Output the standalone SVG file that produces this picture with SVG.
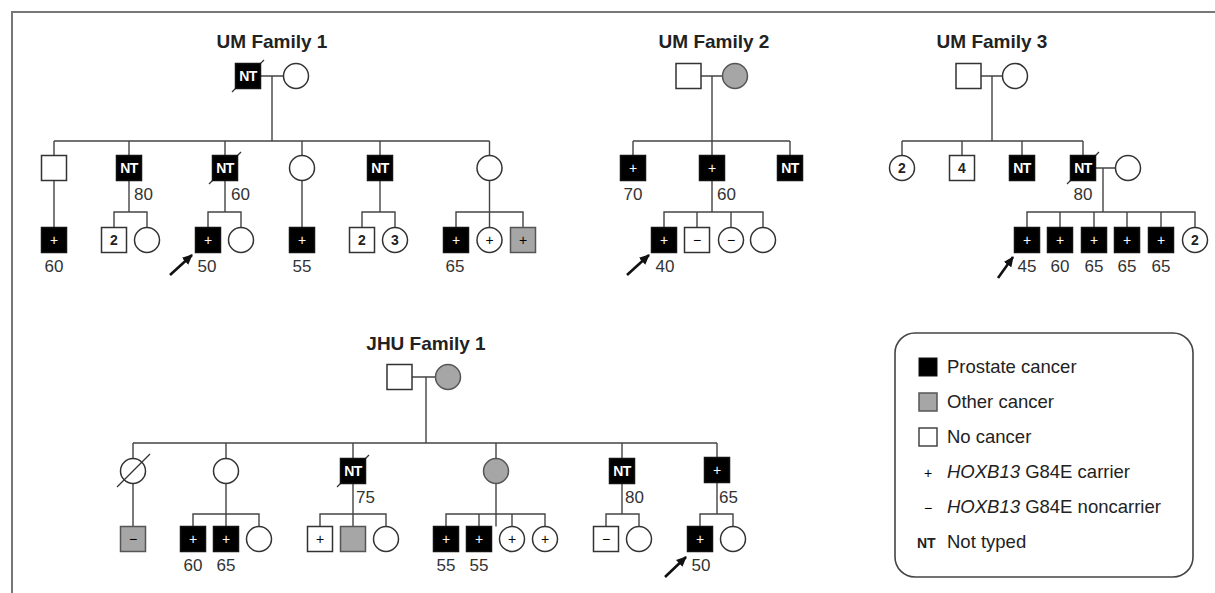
<svg xmlns="http://www.w3.org/2000/svg" width="1215" height="593" viewBox="0 0 1215 593">
<defs>
<style>
.sq{stroke:#333;stroke-width:1.5;fill:#fff}
.aff{fill:#000;stroke:#111}
.oth{fill:#a6a6a6;stroke:#555}
.ln{stroke:#444;stroke-width:1.4;fill:none}
.sl{stroke:#333;stroke-width:1.2}
.nt{font-family:"Liberation Sans",Arial,sans-serif;font-weight:bold;font-size:14px;fill:#fff;text-anchor:middle;letter-spacing:-0.5px}
.pw{font-family:"Liberation Sans",Arial,sans-serif;font-size:14px;fill:#fff;text-anchor:middle}
.pb{font-family:"Liberation Sans",Arial,sans-serif;font-size:14px;fill:#000;text-anchor:middle}
.num{font-family:"Liberation Sans",Arial,sans-serif;font-weight:bold;font-size:14px;fill:#222;text-anchor:middle}
.age{font-family:"Liberation Sans",Arial,sans-serif;font-size:17px;fill:#333}
.agec{font-family:"Liberation Sans",Arial,sans-serif;font-size:17px;fill:#333;text-anchor:middle}
.title{font-family:"Liberation Sans",Arial,sans-serif;font-weight:bold;font-size:19px;fill:#222;text-anchor:middle}
.lg{font-family:"Liberation Sans",Arial,sans-serif;font-size:18.5px;fill:#222}
.arr{stroke:#111;stroke-width:2.6;fill:none}
</style>
<marker id="ah" viewBox="0 0 10 10" refX="9" refY="5" markerWidth="4" markerHeight="4" orient="auto" markerUnits="strokeWidth">
<path d="M0,0.5 L10,5 L0,9.5 z" fill="#111"/>
</marker>
</defs>
<rect width="1215" height="593" fill="#fff"/>
<path d="M12 593 V12 H1215" stroke="#777" stroke-width="2" fill="none"/>

<g id="titles">
<text class="title" x="272" y="48">UM Family 1</text>
<text class="title" x="714" y="48">UM Family 2</text>
<text class="title" x="992" y="48">UM Family 3</text>
<text class="title" x="426" y="350">JHU Family 1</text>
</g>

<g id="connectors" class="ln">
<!-- UM Family 1 -->
<path d="M260.5 76 H283.5 M272 76 V141 M54 141 H489.5 M54 141 V155.5 M129 141 V155.5 M225 141 V155.5 M302 141 V155.5 M380 141 V155.5 M489.5 141 V155.5"/>
<path d="M54 180.5 V227.5 M129 180.5 V212 M114 227.5 V212 H147 V227.5 M225 180.5 V212 M208 227.5 V212 H241 V227.5 M302 180.5 V227.5 M380 180.5 V212 M362 227.5 V212 H395 V227.5 M489.5 180.5 V227.5 M456 227.5 V212 H523 V227.5"/>
<!-- UM Family 2 -->
<path d="M701 76 H722.5 M712 76 V141 M633 141 H790 M633 141 V155.5 M712 141 V155.5 M790 141 V155.5 M712 180.5 V212 M664 227.5 V212 H763 V227.5 M697 212 V227.5 M731 212 V227.5"/>
<!-- UM Family 3 -->
<path d="M981 76 H1002.5 M992 76 V141 M902 141 H1083 M902 141 V155.5 M962 141 V155.5 M1022 141 V155.5 M1083 141 V155.5 M1095.5 168 H1115.5 M1103 168 V212 M1027 227.5 V212 H1195 V227.5 M1060 212 V227.5 M1094 212 V227.5 M1127 212 V227.5 M1161 212 V227.5"/>
<!-- JHU Family 1 -->
<path d="M412 377 H435.5 M426 377 V443 M133 443 H717 M133 443 V458.5 M226 443 V458.5 M353 443 V458.5 M496 443 V458.5 M622 443 V458.5 M717 443 V457.5"/>
<path d="M133 483.5 V526.5 M226 483.5 V526.5 M193 526.5 V514 H259 V526.5 M353 483.5 V526.5 M320 526.5 V514 H386 V526.5 M496 483.5 V526.5 M446 526.5 V514 H545 V526.5 M479 514 V526.5 M512 514 V526.5 M622 483.5 V514 M606 526.5 V514 H639 V526.5 M717 482.5 V514 M700 526.5 V514 H733 V526.5"/>
<!-- proband arrows -->
<g class="arr">
<line x1="170" y1="275" x2="192" y2="255" marker-end="url(#ah)"/>
<line x1="627" y1="275" x2="649" y2="255" marker-end="url(#ah)"/>
<line x1="998" y1="278" x2="1013" y2="257" marker-end="url(#ah)"/>
<line x1="665" y1="577" x2="686" y2="557" marker-end="url(#ah)"/>
</g>
</g>

<!-- ===== UM Family 1 ===== -->
<g id="f1-father"><line class="sl" x1="232" y1="92" x2="264" y2="60"/><rect class="sq aff" x="235.5" y="63.5" width="25" height="25"/><text class="nt" x="248" y="81">NT</text></g>
<g id="f1-mother"><circle class="sq" cx="296" cy="76" r="12.5"/></g>
<g id="f1-c1"><rect class="sq" x="41.5" y="155.5" width="25" height="25"/></g>
<g id="f1-c2"><rect class="sq aff" x="116.5" y="155.5" width="25" height="25"/><text class="nt" x="129" y="173">NT</text><text class="age" x="134" y="200">80</text></g>
<g id="f1-c3"><line class="sl" x1="209" y1="184" x2="241" y2="152"/><rect class="sq aff" x="212.5" y="155.5" width="25" height="25"/><text class="nt" x="225" y="173">NT</text><text class="age" x="231" y="200">60</text></g>
<g id="f1-c4"><circle class="sq" cx="302" cy="168" r="12.5"/></g>
<g id="f1-c5"><rect class="sq aff" x="367.5" y="155.5" width="25" height="25"/><text class="nt" x="380" y="173">NT</text></g>
<g id="f1-c6"><circle class="sq" cx="489.5" cy="168" r="12.5"/></g>
<g id="f1-g1"><rect class="sq aff" x="41.5" y="227.5" width="25" height="25"/><text class="pw" x="54" y="245">+</text><text class="agec" x="54" y="272">60</text></g>
<g id="f1-g2"><rect class="sq" x="101.5" y="227.5" width="25" height="25"/><text class="num" x="114" y="245">2</text></g>
<g id="f1-g3"><circle class="sq" cx="147" cy="240" r="12.5"/></g>
<g id="f1-g4"><rect class="sq aff" x="195.5" y="227.5" width="25" height="25"/><text class="pw" x="208" y="245">+</text><text class="agec" x="207" y="272">50</text></g>
<g id="f1-g5"><circle class="sq" cx="241" cy="240" r="12.5"/></g>
<g id="f1-g6"><rect class="sq aff" x="289.5" y="227.5" width="25" height="25"/><text class="pw" x="302" y="245">+</text><text class="agec" x="302" y="272">55</text></g>
<g id="f1-g7"><rect class="sq" x="349.5" y="227.5" width="25" height="25"/><text class="num" x="362" y="245">2</text></g>
<g id="f1-g8"><circle class="sq" cx="395" cy="240" r="12.5"/><text class="num" x="395" y="245">3</text></g>
<g id="f1-g9"><rect class="sq aff" x="443.5" y="227.5" width="25" height="25"/><text class="pw" x="456" y="245">+</text><text class="agec" x="455" y="272">65</text></g>
<g id="f1-g10"><circle class="sq" cx="489.5" cy="240" r="12.5"/><text class="pb" x="489.5" y="245">+</text></g>
<g id="f1-g11"><rect class="sq oth" x="510.5" y="227.5" width="25" height="25"/><text class="pb" x="523" y="245">+</text></g>

<!-- ===== UM Family 2 ===== -->
<g id="f2-father"><rect class="sq" x="676" y="63.5" width="25" height="25"/></g>
<g id="f2-mother"><circle class="sq oth" cx="735" cy="76" r="12.5"/></g>
<g id="f2-c1"><rect class="sq aff" x="620.5" y="155.5" width="25" height="25"/><text class="pw" x="633" y="173">+</text><text class="agec" x="633" y="200">70</text></g>
<g id="f2-c2"><rect class="sq aff" x="699.5" y="155.5" width="25" height="25"/><text class="pw" x="712" y="173">+</text><text class="age" x="717" y="200">60</text></g>
<g id="f2-c3"><rect class="sq aff" x="777.5" y="155.5" width="25" height="25"/><text class="nt" x="790" y="173">NT</text></g>
<g id="f2-g1"><rect class="sq aff" x="651.5" y="227.5" width="25" height="25"/><text class="pw" x="664" y="245">+</text><text class="agec" x="665" y="272">40</text></g>
<g id="f2-g2"><rect class="sq" x="684.5" y="227.5" width="25" height="25"/><text class="pb" x="697" y="245">−</text></g>
<g id="f2-g3"><circle class="sq" cx="731" cy="240" r="12.5"/><text class="pb" x="731" y="245">−</text></g>
<g id="f2-g4"><circle class="sq" cx="763" cy="240" r="12.5"/></g>

<!-- ===== UM Family 3 ===== -->
<g id="f3-father"><rect class="sq" x="956" y="63.5" width="25" height="25"/></g>
<g id="f3-mother"><circle class="sq" cx="1015" cy="76" r="12.5"/></g>
<g id="f3-c1"><circle class="sq" cx="902" cy="168" r="12.5"/><text class="num" x="902" y="173">2</text></g>
<g id="f3-c2"><rect class="sq" x="949.5" y="155.5" width="25" height="25"/><text class="num" x="962" y="173">4</text></g>
<g id="f3-c3"><rect class="sq aff" x="1009.5" y="155.5" width="25" height="25"/><text class="nt" x="1022" y="173">NT</text></g>
<g id="f3-c4"><line class="sl" x1="1067" y1="184" x2="1099" y2="152"/><rect class="sq aff" x="1070.5" y="155.5" width="25" height="25"/><text class="nt" x="1083" y="173">NT</text><text class="agec" x="1083" y="200">80</text></g>
<g id="f3-c4-spouse"><circle class="sq" cx="1128" cy="168" r="12.5"/></g>
<g id="f3-g1"><rect class="sq aff" x="1014.5" y="227.5" width="25" height="25"/><text class="pw" x="1027" y="245">+</text><text class="agec" x="1027" y="272">45</text></g>
<g id="f3-g2"><rect class="sq aff" x="1047.5" y="227.5" width="25" height="25"/><text class="pw" x="1060" y="245">+</text><text class="agec" x="1060" y="272">60</text></g>
<g id="f3-g3"><rect class="sq aff" x="1081.5" y="227.5" width="25" height="25"/><text class="pw" x="1094" y="245">+</text><text class="agec" x="1094" y="272">65</text></g>
<g id="f3-g4"><rect class="sq aff" x="1114.5" y="227.5" width="25" height="25"/><text class="pw" x="1127" y="245">+</text><text class="agec" x="1127" y="272">65</text></g>
<g id="f3-g5"><rect class="sq aff" x="1148.5" y="227.5" width="25" height="25"/><text class="pw" x="1161" y="245">+</text><text class="agec" x="1161" y="272">65</text></g>
<g id="f3-g6"><circle class="sq" cx="1195" cy="240" r="12.5"/><text class="num" x="1195" y="245">2</text></g>

<!-- ===== JHU Family 1 ===== -->
<g id="j1-father"><rect class="sq" x="387" y="364.5" width="25" height="25"/></g>
<g id="j1-mother"><circle class="sq oth" cx="448" cy="377" r="12.5"/></g>
<g id="j1-c1"><circle class="sq" cx="133" cy="471" r="12.5"/><line class="sl" x1="117" y1="487" x2="150" y2="454"/></g>
<g id="j1-c2"><circle class="sq" cx="226" cy="471" r="12.5"/></g>
<g id="j1-c3"><line class="sl" x1="337" y1="487" x2="369" y2="455"/><rect class="sq aff" x="340.5" y="458.5" width="25" height="25"/><text class="nt" x="353" y="476">NT</text><text class="age" x="356" y="503">75</text></g>
<g id="j1-c4"><circle class="sq oth" cx="496" cy="471" r="12.5"/></g>
<g id="j1-c5"><rect class="sq aff" x="609.5" y="458.5" width="25" height="25"/><text class="nt" x="622" y="476">NT</text><text class="age" x="625" y="503">80</text></g>
<g id="j1-c6"><rect class="sq aff" x="704.5" y="457.5" width="25" height="25"/><text class="pw" x="717" y="475">+</text><text class="age" x="719" y="503">65</text></g>
<g id="j1-g1"><rect class="sq oth" x="120.5" y="526.5" width="25" height="25"/><text class="pb" x="133" y="544">−</text></g>
<g id="j1-g2"><rect class="sq aff" x="180.5" y="526.5" width="25" height="25"/><text class="pw" x="193" y="544">+</text><text class="agec" x="193" y="571">60</text></g>
<g id="j1-g3"><rect class="sq aff" x="213.5" y="526.5" width="25" height="25"/><text class="pw" x="226" y="544">+</text><text class="agec" x="226" y="571">65</text></g>
<g id="j1-g4"><circle class="sq" cx="259" cy="539" r="12.5"/></g>
<g id="j1-g5"><rect class="sq" x="307.5" y="526.5" width="25" height="25"/><text class="pb" x="320" y="544">+</text></g>
<g id="j1-g6"><rect class="sq oth" x="340.5" y="526.5" width="25" height="25"/></g>
<g id="j1-g7"><circle class="sq" cx="386" cy="539" r="12.5"/></g>
<g id="j1-g8"><rect class="sq aff" x="433.5" y="526.5" width="25" height="25"/><text class="pw" x="446" y="544">+</text><text class="agec" x="446" y="571">55</text></g>
<g id="j1-g9"><rect class="sq aff" x="466.5" y="526.5" width="25" height="25"/><text class="pw" x="479" y="544">+</text><text class="agec" x="479" y="571">55</text></g>
<g id="j1-g10"><circle class="sq" cx="512" cy="539" r="12.5"/><text class="pb" x="512" y="544">+</text></g>
<g id="j1-g11"><circle class="sq" cx="545" cy="539" r="12.5"/><text class="pb" x="545" y="544">+</text></g>
<g id="j1-g12"><rect class="sq" x="593.5" y="526.5" width="25" height="25"/><text class="pb" x="606" y="544">−</text></g>
<g id="j1-g13"><circle class="sq" cx="639" cy="539" r="12.5"/></g>
<g id="j1-g14"><rect class="sq aff" x="687.5" y="526.5" width="25" height="25"/><text class="pw" x="700" y="544">+</text><text class="agec" x="701" y="571">50</text></g>
<g id="j1-g15"><circle class="sq" cx="733" cy="539" r="12.5"/></g>

<!-- ===== Legend ===== -->
<g id="legend">
<rect x="895" y="333" width="298" height="244" rx="20" fill="#fff" stroke="#444" stroke-width="1.6"/>
<rect x="919" y="358" width="18" height="18" fill="#000" stroke="#111"/>
<text class="lg" x="947" y="373">Prostate cancer</text>
<rect x="919" y="393" width="18" height="18" fill="#a6a6a6" stroke="#555" stroke-width="1.5"/>
<text class="lg" x="947" y="408">Other cancer</text>
<rect x="919" y="428" width="18" height="18" fill="#fff" stroke="#444" stroke-width="1.5"/>
<text class="lg" x="947" y="443">No cancer</text>
<text class="pb" x="928" y="478">+</text>
<text class="lg" x="947" y="478"><tspan font-style="italic">HOXB13</tspan> G84E carrier</text>
<text class="pb" x="928" y="513">−</text>
<text class="lg" x="947" y="513"><tspan font-style="italic">HOXB13</tspan> G84E noncarrier</text>
<text x="917" y="548" font-family="Liberation Sans, Arial, sans-serif" font-weight="bold" font-size="14" fill="#222">NT</text>
<text class="lg" x="947" y="548">Not typed</text>
</g>
</svg>
